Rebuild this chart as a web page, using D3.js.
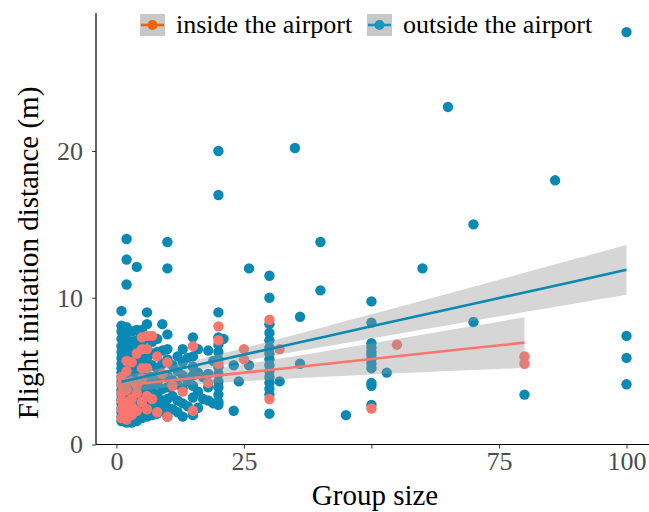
<!DOCTYPE html>
<html lang="en">
  <head>
    <title>Flight initiation distance</title>
    <meta charset="utf-8" />
    <script src="https://cdn.jsdelivr.net/npm/d3@7"></script>
    <style>
      body { margin: 0; background: #fff; }
    </style>
  </head>
  <body>
    <svg id="scatter" width="649" height="512" viewBox="0 0 649 512"></svg>
    <script>
      // --- data ---
      // outside the airport (blue)
      const outsideSize = [
        1,1,1,1,1,1,1,1,1,1,1,1,1,1,1,1,1,1,1,1,1,
        2,2,2,2,2,2,2,2,2,2,2,2,2,2,2,2,2,2,2,2,2,2,2,
        3,3,3,3,3,3,3,3,3,3,3,3,3,3,3,3,
        4,4,4,4,4,4,4,4,4,4,4,4,4,4,4,
        5,5,5,5,5,5,5,5,5,5,5,5,
        6,6,6,6,6,6,6,6,6,6,6,
        7,7,7,7,7,7,7,7,
        8,8,8,8,8,8,8,
        9,9,9,9,9,9,9,
        10,10,10,10,10,10,10,10,10,10,
        11,11,11,11,
        12,12,12,12,12,
        13,13,13,13,13,13,
        14,14,14,
        15,15,15,15,15,15,15,
        16,16,16,16,
        17,17,
        18,18,18,18,
        19,19,
        20,20,20,20,20,20,20,20,20,20,20,20,20,20,
        21, 23,23, 24, 26,26,
        30,30,30,30,30,30,30,30,30,30,30,30,30,30,30,
        32, 35, 36,36, 40,40, 45,
        50,50,50,50,50,50,50,50,50,50,50,50,
        53, 60, 65, 70,70, 80, 86,
        100,100,100,100
      ];
      const outsideFID = [
        1.6,1.9,2.2,2.5,2.8,3.1,3.4,3.7,4.0,4.3,4.6,4.9,5.2,5.5,5.9,6.3,6.7,7.2,7.7,8.1,9.1,
        1.5,1.8,2.1,2.4,2.7,3.0,3.3,3.6,3.9,4.2,4.5,4.8,5.1,5.4,5.8,6.2,6.6,7.0,7.6,8.0,10.9,12.6,14.0,
        1.5,1.8,2.2,2.5,2.9,3.2,3.6,4.0,4.4,4.8,5.2,5.7,6.1,6.5,7.0,7.7,
        1.6,2.0,2.4,2.8,3.2,3.6,4.0,4.5,5.0,5.5,6.0,6.5,7.1,7.8,12.1,
        1.8,2.2,2.7,3.2,3.7,4.2,4.7,5.3,5.9,6.4,7.0,7.8,
        1.9,2.4,2.9,3.5,4.1,4.7,5.3,5.9,6.5,8.2,9.0,
        2.0,2.6,3.2,3.9,4.6,5.4,6.2,7.0,
        2.1,2.7,3.4,4.2,5.2,6.3,7.2,
        2.3,3.0,3.8,4.6,5.5,6.4,8.2,
        1.9,2.5,3.1,3.9,4.7,5.8,6.5,7.5,12.0,13.8,
        2.4,3.3,4.4,5.4,
        2.2,3.0,4.1,5.0,6.0,
        1.9,2.8,3.8,4.7,5.6,6.5,
        2.6,4.3,5.9,
        2.0,3.2,4.0,4.7,5.3,6.0,7.3,
        2.5,3.6,4.9,6.5,
        3.1,4.6,
        3.0,3.9,4.8,6.4,
        2.8,5.7,
        2.7,2.9,3.4,3.9,4.3,4.8,5.3,5.8,6.3,6.8,7.3,9.0,17.0,20.0,
        7.2, 2.3,5.4, 4.3, 5.4,12.0,
        2.1,3.4,3.8,4.2,4.6,5.0,5.4,5.8,6.2,6.6,7.1,7.6,8.2,10.0,11.5,
        4.3, 20.2, 5.5,8.7, 10.5,13.8, 2.0,
        2.7,4.0,4.2,5.2,5.5,5.8,6.1,6.3,6.6,6.9,8.3,9.75,
        4.9, 12.0, 23.0, 8.35,15.0, 3.4, 18.0,
        4.1,5.9,7.4,28.1
      ];

      // inside the airport (salmon)
      const insideSize = [
        1,1,1,1,1,1,
        2,2,2,2,2,2,2,
        3,3,3,3,3,
        4,4,4,4,
        5,5,5,5,5,
        6,6,6,6,6,
        7,7, 8,8, 9, 10,10, 11, 13, 15,15, 18,
        20,20,20, 25,25, 30,30, 32, 50, 55, 80,80
      ];
      const insideFID = [
        1.8,2.4,3.0,3.5,4.1,4.6,
        1.7,2.2,2.9,3.7,4.2,5.0,5.7,
        2.0,2.6,3.1,4.3,5.6,
        2.3,3.5,4.0,6.2,
        2.9,4.5,5.2,6.5,7.3,
        2.4,3.3,5.2,6.5,7.4,
        3.1,7.4, 2.2,6.0, 4.8, 1.9,5.6, 4.0, 3.6, 2.3,6.7, 4.2,
        5.5,7.1,8.05, 5.8,6.5, 3.1,8.5, 6.5, 2.45, 6.8, 5.5,6.0
      ];

      // fitted lines with 95% band (read at a few group sizes)
      const outsideFitX = [1, 10, 20, 30, 40, 50, 60, 70, 80, 90, 100];
      const outsideFit = [4.28, 4.97, 5.74, 6.51, 7.28, 8.05, 8.82, 9.59, 10.36, 11.13, 11.9];
      const outsideLow = [3.89, 4.62, 5.34, 6.00, 6.63, 7.23, 7.83, 8.43, 9.02, 9.61, 10.2];
      const outsideHigh = [4.67, 5.32, 6.14, 7.02, 7.94, 8.87, 9.81, 10.75, 11.70, 12.65, 13.6];

      const insideFitX = [1, 10, 20, 30, 40, 50, 60, 70, 80];
      const insideFit = [4.01, 4.34, 4.71, 5.08, 5.45, 5.83, 6.20, 6.57, 6.94];
      const insideLow = [3.51, 3.89, 4.20, 4.42, 4.60, 4.77, 4.92, 5.07, 5.21];
      const insideHigh = [4.51, 4.79, 5.22, 5.74, 6.30, 6.89, 7.48, 8.07, 8.67];

      const xTicks = [0, 25, 50, 75, 100];
      const xTickLabels = ["0", "25", "", "75", "100"];
      const yTicks = [0, 10, 20];
      const groups = ["inside the airport", "outside the airport"];

      // colours
      const pointColor = { inside: "#f8766d", outside: "#0a89b4" };
      const keyColor = { inside: "#e8640f", outside: "#1796c2" };
      const font = "'Liberation Serif', 'Times New Roman', serif";

      var svg = d3.select("#scatter").attr("font-family", font);

      // panel edges (in px)
      var panel = { left: 96, right: 652, top: 13, bottom: 444.5 };

      const xScale = d3.scaleLinear().domain([-4, 105]).range([panel.left, panel.right]);
      const yScale = d3.scaleLinear().domain([0, 29.4]).range([panel.bottom, panel.top]);

      const inside = insideSize.map((s, i) => ({ size: s, fid: insideFID[i] }));
      const outside = outsideSize.map((s, i) => ({ size: s, fid: outsideFID[i] }));

      // points: outside first, inside on top
      svg.append("g")
        .selectAll("circle")
        .data(outside)
        .enter()
        .append("circle")
        .attr("r", 5.2)
        .attr("cx", (d) => xScale(d.size))
        .attr("cy", (d) => yScale(d.fid))
        .attr("fill", pointColor.outside);

      svg.append("g")
        .selectAll("circle")
        .data(inside)
        .enter()
        .append("circle")
        .attr("r", 5.2)
        .attr("cx", (d) => xScale(d.size))
        .attr("cy", (d) => yScale(d.fid))
        .attr("fill", pointColor.inside);

      // smooth bands + lines
      function drawSmooth(xs, fit, low, high, col) {
        var rows = xs.map((x, i) => ({ x: x, fit: fit[i], low: low[i], high: high[i] }));
        svg.append("path")
          .datum(rows)
          .attr("fill", "#999999")
          .attr("fill-opacity", 0.4)
          .attr("d", d3.area()
            .x((d) => xScale(d.x))
            .y0((d) => yScale(d.low))
            .y1((d) => yScale(d.high))
            .curve(d3.curveMonotoneX));
        svg.append("path")
          .datum(rows)
          .attr("fill", "none")
          .attr("stroke", col)
          .attr("stroke-width", 2.6)
          .attr("d", d3.line()
            .x((d) => xScale(d.x))
            .y((d) => yScale(d.fit)));
      }
      drawSmooth(insideFitX, insideFit, insideLow, insideHigh, pointColor.inside);
      drawSmooth(outsideFitX, outsideFit, outsideLow, outsideHigh, pointColor.outside);

      // X axis
      const xAxis = svg.append("g")
        .attr("transform", `translate(0, ${panel.bottom})`)
        .call(d3.axisBottom(xScale)
          .tickValues(xTicks)
          .tickSize(4)
          .tickPadding(3)
          .tickFormat((d, i) => xTickLabels[i]));
      xAxis.select(".domain").attr("stroke", "black").attr("stroke-width", 1.2)
        .attr("d", `M${panel.left},0H649`);
      xAxis.selectAll("line").attr("stroke", "#333");
      xAxis.selectAll("text")
        .style("fill", "#4d4d4d")
        .style("font-size", "26px")
        .style("font-family", font);

      // Y axis
      const yAxis = svg.append("g")
        .attr("transform", `translate(${panel.left}, 0)`)
        .call(d3.axisLeft(yScale)
          .tickValues(yTicks)
          .tickSize(4)
          .tickPadding(9));
      yAxis.select(".domain").attr("stroke", "black").attr("stroke-width", 1.2)
        .attr("d", `M0,${panel.top}V${panel.bottom}`);
      yAxis.selectAll("line").attr("stroke", "#333");
      yAxis.selectAll("text")
        .style("fill", "#4d4d4d")
        .style("font-size", "26px")
        .style("font-family", font);

      // axis titles
      svg.append("text")
        .attr("x", 375)
        .attr("y", 505)
        .attr("text-anchor", "middle")
        .attr("font-size", "29px")
        .attr("fill", "black")
        .text("Group size");

      svg.append("text")
        .attr("transform", "translate(38, 253) rotate(-90)")
        .attr("text-anchor", "middle")
        .attr("font-size", "29px")
        .attr("fill", "black")
        .text("Flight initiation distance (m)");

      // legend
      var keyX = [140, 367];
      var legend = svg.append("g");
      groups.forEach(function (g, i) {
        var col = i === 0 ? keyColor.inside : keyColor.outside;
        legend.append("rect")
          .attr("x", keyX[i]).attr("y", 14)
          .attr("width", 25).attr("height", 22)
          .attr("fill", "#c8c8c8");
        legend.append("line")
          .attr("x1", keyX[i] + 1).attr("x2", keyX[i] + 24)
          .attr("y1", 25).attr("y2", 25)
          .attr("stroke", col).attr("stroke-width", 2.6);
        legend.append("circle")
          .attr("cx", keyX[i] + 12.5).attr("cy", 25).attr("r", 5)
          .attr("fill", col);
        legend.append("text")
          .attr("x", keyX[i] + 36)
          .attr("y", 33)
          .attr("font-size", "26px")
          .attr("fill", "black")
          .text(g);
      });
    </script>
  </body>
</html>
